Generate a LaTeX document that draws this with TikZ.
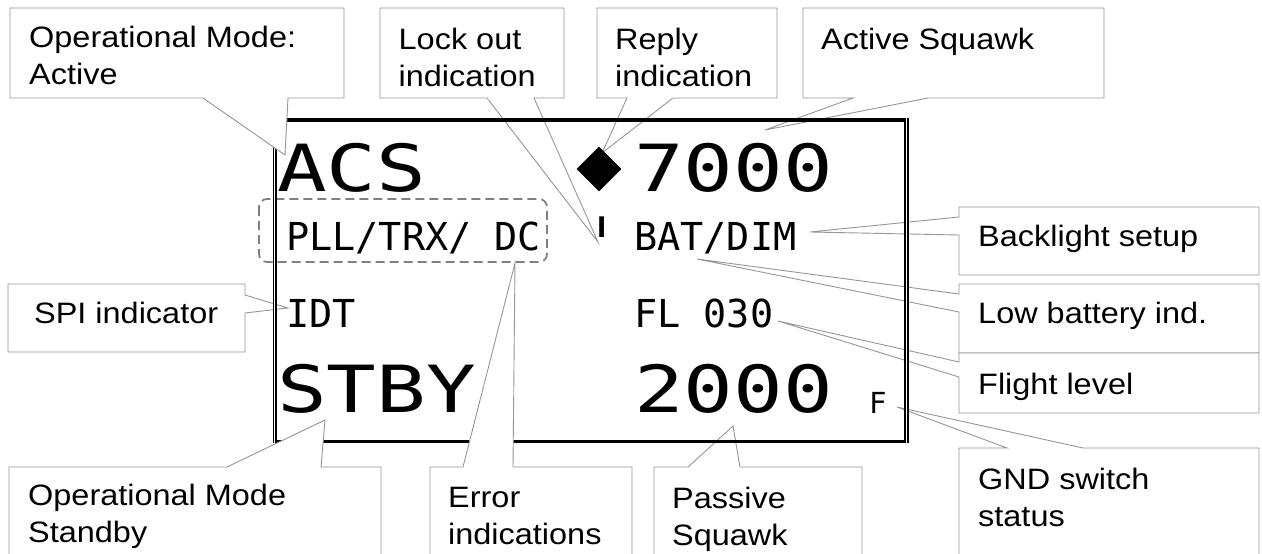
\documentclass[tikz,border=0pt]{standalone}
\usepackage{fontspec}
\setmainfont{Liberation Sans}
\newfontfamily\labelfont[FakeStretch=1.1]{Liberation Sans}
\newfontfamily\lcdfont{DejaVu Sans Mono}
\newfontfamily\lcdbigfont[FakeStretch=1.27]{DejaVu Sans Mono}
\usetikzlibrary{shapes.geometric}

\definecolor{calloutgray}{RGB}{150,150,150}
\definecolor{dashgray}{RGB}{128,128,128}

\tikzset{
	callout/.style={draw=calloutgray, fill=white, line width=0.9pt},
	calltext/.style={anchor=north west, inner sep=0pt, align=left,
		font={\labelfont\fontsize{29.5}{37}\selectfont}},
	lcdsmall/.style={anchor=base west, inner sep=0pt,
		font={\lcdfont\fontsize{38.5}{40}\selectfont}},
	lcdbig/.style={anchor=base west, inner sep=0pt,
		font={\lcdbigfont\fontsize{65}{70}\selectfont}},
}

\begin{document}
\begin{tikzpicture}[x=1pt, y=-1pt]
	
	% 1. Khung hinh
	\def\W{1262}
	\def\H{554}
	\useasboundingbox (0,0) rectangle (\W,\H);
	\clip (0,0) rectangle (\W,\H);
	
	% 2. Diem mui cua cac chu thich
	\coordinate (tipOpA) at (285,155);
	\coordinate (tipLock) at (598,242);
	\coordinate (tipReply) at (602,153);
	\coordinate (tipSqA) at (765,130);
	\coordinate (tipBack) at (810,232);
	\coordinate (tipBat) at (697,259);
	\coordinate (tipFL) at (778,321);
	\coordinate (tipGND) at (897,407);
	\coordinate (tipSPI) at (288,308);
	\coordinate (tipOpS) at (325,420);
	\coordinate (tipErr) at (515,263);
	\coordinate (tipSqP) at (733,426);
	
	% 3. Chu thich nam duoi khung man hinh
	\draw[callout] (380,8) -- (564,8) -- (564,98) -- (534,98) -- (tipLock) -- (487,98) -- (380,98) -- cycle;
	\node[calltext] (lblLock) at (398.5,28) {Lock out\\indication};
	
	\draw[callout] (597,8) -- (777,8) -- (777,98) -- (673,98) -- (tipReply) -- (627,98) -- (597,98) -- cycle;
	\node[calltext] (lblReply) at (615,28) {Reply\\indication};
	
	\draw[callout] (803,8) -- (1104,8) -- (1104,98) -- (928,98) -- (tipSqA) -- (853,98) -- (803,98) -- cycle;
	\node[calltext] (lblSqA) at (821,28) {Active Squawk};
	
	\draw[callout] (959,207) -- (1259,207) -- (1259,275) -- (959,275) -- (959,235) -- (tipBack) -- (959,217) -- cycle;
	\node[calltext] (lblBack) at (978,225) {Backlight setup};
	
	\draw[callout] (959,284) -- (1259,284) -- (1259,353) -- (959,353) -- (959,312) -- (tipBat) -- (959,294) -- cycle;
	\node[calltext] (lblBat) at (978,302) {Low battery ind.};
	
	\draw[callout] (959,353) -- (1259,353) -- (1259,413) -- (959,413) -- (959,377) -- (tipFL) -- (959,362) -- cycle;
	\node[calltext] (lblFL) at (978,373) {Flight level};
	
	\draw[callout] (959,448) -- (1007,448) -- (tipGND) -- (1083,448) -- (1259,448) -- (1259,570) -- (959,570) -- cycle;
	\node[calltext] (lblGND) at (978,468) {GND switch\\status};
	
	\draw[callout] (8,284) -- (245,284) -- (245,295) -- (tipSPI) -- (245,313) -- (245,352) -- (8,352) -- cycle;
	\node[calltext] (lblSPI) at (34,302) {SPI indicator};
	
	\draw[callout] (654,467) -- (688,467) -- (tipSqP) -- (740,467) -- (862,467) -- (862,570) -- (654,570) -- cycle;
	\node[calltext] (lblSqP) at (672,487) {Passive\\Squawk};
	
	% 4. Man hinh
	\draw[dashgray, line width=1.8pt, dash pattern=on 9pt off 5pt, rounded corners=8pt]
	(259,199) rectangle (547,262);
	\draw[line width=3.5pt] (274,120) -- (908,120);
	\draw[line width=3pt] (274,441) -- (908,441);
	\draw[double, line width=1.3pt, double distance=1.4pt] (274.7,118.3) -- (274.7,442.5);
	\draw[double, line width=1.5pt, double distance=1.7pt] (906.6,118.3) -- (906.6,442.5);
	
	% 5. Noi dung man hinh
	\node[lcdbig] (acs) at (277,191) {ACS};
	\node[diamond, fill=black, inner sep=0pt, minimum width=45pt, minimum height=45pt] (reply) at (599,169) {};
	\node[lcdbig] (sqActive) at (634,191) {7000};
	\node[lcdsmall] (err) at (286,250) {PLL/TRX/ DC};
	\node[anchor=base west, inner sep=0pt, font={\labelfont\bfseries\fontsize{30}{32}\selectfont}] (lock) at (597,237) {I};
	\node[lcdsmall] (bat) at (634,250) {BAT/DIM};
	\node[lcdsmall] (idt) at (286,327) {IDT};
	\node[lcdsmall] (fl) at (634,327) {FL 030};
	\node[lcdbig] (stby) at (277,412) {STBY};
	\node[lcdbig] (sqPassive) at (634,412) {2000};
	\node[anchor=base west, inner sep=0pt, font={\lcdfont\fontsize{29}{30}\selectfont}] (gnd) at (869,413) {F};
	
	% 6. Chu thich nam tren khung man hinh
	\draw[callout] (10,8) -- (344,8) -- (344,98) -- (288,98) -- (tipOpA) -- (203,98) -- (10,98) -- cycle;
	\node[calltext] (lblOpA) at (29,26) {Operational Mode:\\Active};
	
	\draw[callout] (9,467) -- (227,467) -- (tipOpS) -- (321,467) -- (381,467) -- (381,570) -- (9,570) -- cycle;
	\node[calltext] (lblOpS) at (28,484) {Operational Mode\\Standby};
	
	\draw[callout] (430,467) -- (463,467) -- (tipErr) -- (513,467) -- (632,467) -- (632,570) -- (430,570) -- cycle;
	\node[calltext] (lblErr) at (448,487) {Error\\indications};
	
\end{tikzpicture}
\end{document}
